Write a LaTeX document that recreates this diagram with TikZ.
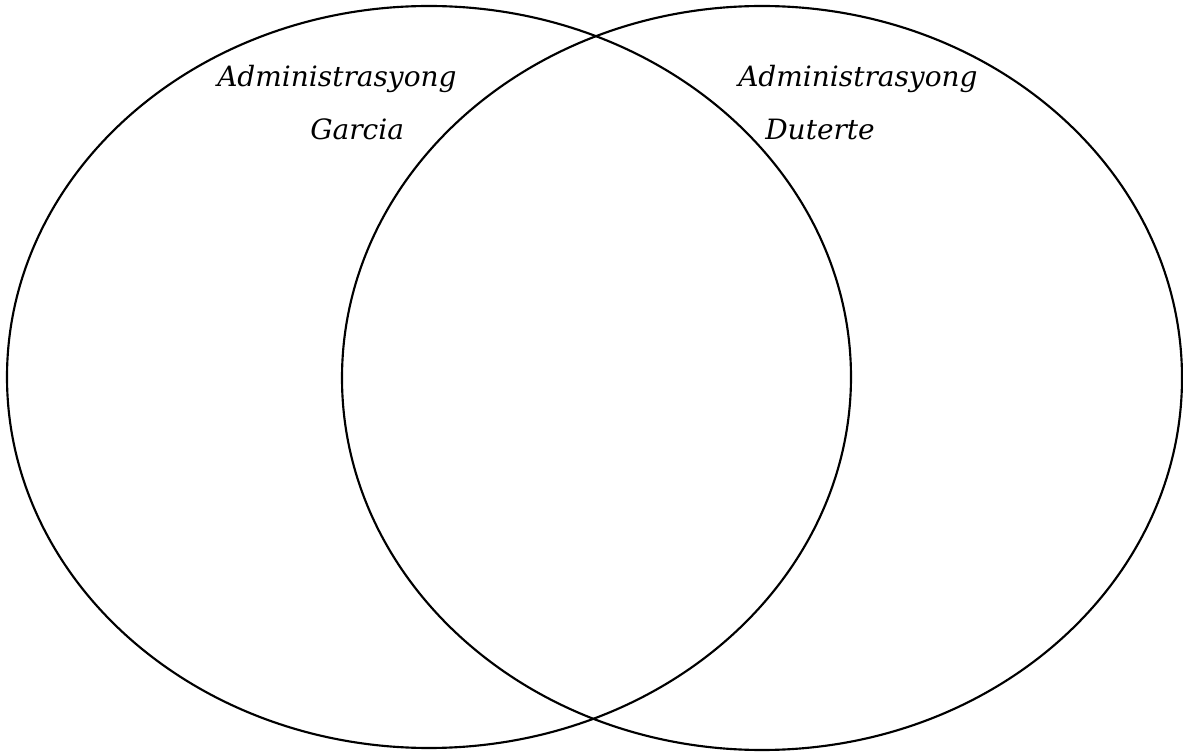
\documentclass[tikz,border=0pt]{standalone}
\usepackage{fontspec}
\setmainfont{DejaVu Serif}
\begin{document}
\begin{tikzpicture}[x=0.75pt,y=-0.75pt,
  venn/.style={draw=black,line width=1.6pt},
  lbl/.style={font=\itshape\fontsize{21}{24}\selectfont,anchor=base west,inner sep=0pt}]
\useasboundingbox (0,0) rectangle (1183,752);
\draw[venn] (429,377) ellipse [x radius=422, y radius=371];
\draw[venn] (762,378) ellipse [x radius=420, y radius=372];
\node[lbl] (a1) at (217,87) {Administrasyong};
\node[lbl] (g) at (310,140) {Garcia};
\node[lbl] (a2) at (738,87) {Administrasyong};
\node[lbl] (d) at (765,140) {Duterte};
\end{tikzpicture}
\end{document}
